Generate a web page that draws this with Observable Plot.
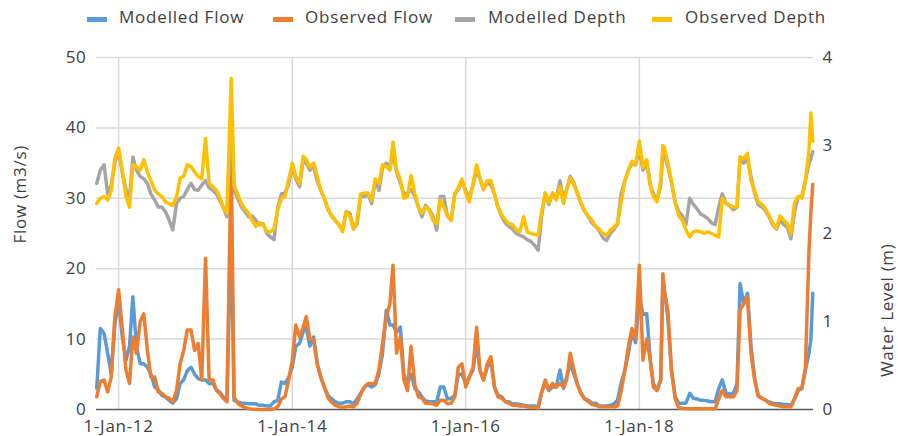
<!DOCTYPE html>
<html><head><meta charset="utf-8">
<script src="https://cdn.jsdelivr.net/npm/d3@7"></script>
<script src="https://cdn.jsdelivr.net/npm/@observablehq/plot@0.6"></script>
<style>
body{margin:0;background:#fff;font-family:"Open Sans",sans-serif;}
#wrap{position:relative;width:898px;height:436px;overflow:hidden;}
#legend{position:relative;height:35px;}
.lt{position:absolute;top:6px;font-size:17px;letter-spacing:0.8px;color:#404040;line-height:22px;white-space:nowrap;}
.sw{position:absolute;top:17px;width:20px;height:5px;}
</style></head><body>
<div id="wrap"><div id="legend"></div><div id="chart"></div></div>
<script>
const dates = [
"2011-10-01","2011-10-16","2011-11-01","2011-11-16","2011-12-01","2011-12-16",
"2012-01-01","2012-01-16","2012-02-01","2012-02-16","2012-03-01","2012-03-16","2012-04-01","2012-04-16","2012-05-01","2012-05-16","2012-06-01","2012-06-16","2012-07-01","2012-07-16","2012-08-01","2012-08-16","2012-09-01","2012-09-16","2012-10-01","2012-10-16","2012-11-01","2012-11-16","2012-12-01","2012-12-16",
"2013-01-01","2013-01-16","2013-02-01","2013-02-16","2013-03-01","2013-03-16","2013-04-01","2013-04-19","2013-05-01","2013-05-16","2013-06-01","2013-06-16","2013-07-01","2013-07-16","2013-08-01","2013-08-16","2013-09-01","2013-09-16","2013-10-01","2013-10-16","2013-11-01","2013-11-16","2013-12-01","2013-12-16",
"2014-01-01","2014-01-16","2014-02-01","2014-02-16","2014-03-01","2014-03-16","2014-04-01","2014-04-16","2014-05-01","2014-05-16","2014-06-01","2014-06-16","2014-07-01","2014-07-16","2014-08-01","2014-08-16","2014-09-01","2014-09-16","2014-10-01","2014-10-16","2014-11-01","2014-11-16","2014-12-01","2014-12-16",
"2015-01-01","2015-01-16","2015-02-01","2015-02-16","2015-03-01","2015-03-16","2015-04-01","2015-04-16","2015-05-01","2015-05-16","2015-06-01","2015-06-16","2015-07-01","2015-07-16","2015-08-01","2015-08-16","2015-09-01","2015-09-16","2015-10-01","2015-10-16","2015-11-01","2015-11-16","2015-12-01","2015-12-16",
"2016-01-01","2016-01-16","2016-02-01","2016-02-16","2016-03-01","2016-03-16","2016-04-01","2016-04-16","2016-05-01","2016-05-16","2016-06-01","2016-06-16","2016-07-01","2016-07-16","2016-08-01","2016-08-16","2016-09-01","2016-09-16","2016-10-01","2016-10-16","2016-11-01","2016-11-16","2016-12-01","2016-12-16",
"2017-01-01","2017-01-16","2017-02-01","2017-02-16","2017-03-01","2017-03-16","2017-04-01","2017-04-16","2017-05-01","2017-05-16","2017-06-01","2017-06-16","2017-07-01","2017-07-16","2017-08-01","2017-08-16","2017-09-01","2017-09-16","2017-10-01","2017-10-16","2017-11-01","2017-11-16","2017-12-01","2017-12-16",
"2018-01-01","2018-01-16","2018-02-01","2018-02-16","2018-03-01","2018-03-16","2018-04-01","2018-04-10","2018-04-16","2018-05-01","2018-05-16","2018-06-01","2018-06-16","2018-07-01","2018-07-16","2018-08-01","2018-08-16","2018-09-01","2018-09-16","2018-10-01","2018-10-16","2018-11-01","2018-11-16","2018-12-01","2018-12-16",
"2019-01-01","2019-01-16","2019-02-01","2019-02-16","2019-03-01","2019-03-16","2019-04-01","2019-04-16","2019-05-01","2019-05-16","2019-06-01","2019-06-16","2019-07-01","2019-07-16","2019-08-01","2019-08-16","2019-09-01","2019-09-16","2019-10-01","2019-10-16","2019-11-01","2019-11-16","2019-12-01","2019-12-16","2019-12-24",
"2020-01-01"];

const modelledFlow = [
3.0,11.5,10.8,8.0,5.1,12.0,
15.5,10.5,7.0,9.0,16.0,9.0,6.5,6.5,6.0,5.0,3.2,2.8,2.0,1.8,1.3,0.9,1.5,3.7,4.2,5.5,6.0,5.0,4.4,4.2,
4.2,3.7,3.7,2.8,2.5,1.8,1.3,26,1.3,1.1,0.9,0.9,0.8,0.8,0.8,0.6,0.6,0.5,0.5,1.1,1.3,3.9,3.7,4.5,
6.0,9.0,9.4,11.0,11.7,9.0,10.3,6.5,4.6,3.2,2.0,1.5,1.1,0.9,0.9,1.1,1.1,0.8,1.5,2.3,3.2,3.5,3.2,3.5,
5.1,8.0,14.1,12.0,12.0,11.0,11.7,5.0,3.7,5.0,3.0,2.5,1.8,1.2,1.1,1.1,1.1,3.2,3.2,1.5,1.6,2.0,5.0,5.0,
3.7,4.6,5.6,9.5,5.6,4.2,6.0,7.0,3.2,2.0,1.8,1.1,1.1,0.8,0.8,0.7,0.6,0.5,0.5,0.5,0.4,2.5,3.7,2.7,
3.2,3.2,5.6,3.0,4.6,6.5,5.0,3.5,2.3,1.5,1.3,0.9,0.9,0.5,0.5,0.5,0.6,0.8,1.3,3.7,5.6,8.0,11.0,9.5,
16.0,13.5,13.6,7.0,3.7,2.7,4.2,18.8,17.0,13.0,5.6,1.8,0.9,0.9,0.9,2.3,1.6,1.5,1.3,1.3,1.2,1.1,1.1,3.0,4.2,
2.3,2.2,2.3,3.7,17.9,15.0,16.5,9.0,4.6,2.0,1.6,1.3,1.1,0.9,0.8,0.8,0.7,0.7,0.6,1.5,2.7,3.0,5.6,8.0,10,
16.5];

const observedFlow = [
1.8,4.0,4.2,2.5,4.6,13.0,
17.0,11.7,5.6,3.7,10.3,8.0,12.5,13.6,8.5,4.6,4.6,2.5,2.3,1.8,1.6,1.1,2.7,6.5,8.4,11.3,11.3,8.4,9.4,4.2,
21.5,4.2,4.2,2.7,2.3,1.6,1.1,36.5,1.8,0.9,0.5,0.3,0.1,0.05,0.05,0,0,0,0,0.1,0.4,1.5,1.8,4.0,
7.0,12.0,10.3,11.7,13.2,10.0,9.9,6.5,4.6,3.2,1.6,1.0,0.6,0.4,0.3,0.4,0.5,0.4,0.9,2.2,3.2,3.7,3.7,3.7,
5.6,9.4,13.2,15.0,20.5,8.0,10.3,4.2,2.7,9.0,3.5,1.8,1.6,0.9,0.9,0.8,0.6,1.3,1.3,0.8,0.9,1.8,6.0,6.5,
3.2,4.6,6.0,11.7,5.5,4.2,6.5,7.5,3.2,1.8,1.6,1.1,0.9,0.6,0.6,0.5,0.5,0.4,0.3,0.3,0.2,2.5,4.2,2.7,
3.7,3.2,3.7,3.2,4.2,8.0,5.5,3.5,2.2,1.5,1.1,0.7,0.6,0.4,0.4,0.4,0.4,0.4,0.5,2.5,5.6,9.0,11.5,10.0,
20.5,7.0,10.0,7.0,3.2,2.7,4.2,19.3,17.0,14.0,5.6,1.5,0.2,0.2,0.1,0.1,0.1,0.1,0.1,0.1,0.1,0.1,0.1,1.5,2.7,
1.8,1.8,1.8,2.7,14.1,15.0,16.0,8.0,4.2,1.9,1.6,1.3,0.9,0.7,0.6,0.5,0.4,0.4,0.4,1.5,3.0,3.0,6.0,22.6,28,
32];

const modelledDepth = [
2.57,2.72,2.78,2.45,2.55,2.80,
2.95,2.70,2.50,2.40,2.87,2.72,2.65,2.62,2.57,2.45,2.38,2.30,2.30,2.25,2.15,2.04,2.34,2.40,2.42,2.50,2.57,2.50,2.49,2.55,
2.60,2.52,2.49,2.45,2.38,2.30,2.19,3.3,2.50,2.40,2.30,2.25,2.19,2.20,2.15,2.10,2.11,2.00,1.96,1.93,2.30,2.45,2.46,2.55,
2.76,2.62,2.53,2.85,2.80,2.72,2.76,2.60,2.49,2.40,2.27,2.20,2.15,2.10,2.04,2.25,2.23,2.05,2.11,2.42,2.42,2.45,2.34,2.60,
2.49,2.75,2.80,2.75,2.90,2.70,2.57,2.45,2.46,2.50,2.42,2.30,2.19,2.32,2.27,2.20,2.04,2.42,2.42,2.20,2.15,2.45,2.50,2.60,
2.49,2.40,2.55,2.72,2.62,2.50,2.58,2.55,2.45,2.30,2.19,2.12,2.08,2.05,2.00,1.98,1.96,1.93,1.91,1.87,1.81,2.20,2.46,2.33,
2.46,2.40,2.60,2.38,2.50,2.65,2.57,2.45,2.34,2.25,2.19,2.12,2.08,2.03,1.95,1.92,2.00,2.05,2.10,2.45,2.60,2.72,2.80,2.78,
2.95,2.72,2.80,2.55,2.45,2.38,2.55,2.92,2.90,2.76,2.58,2.35,2.25,2.20,2.10,2.40,2.33,2.28,2.22,2.20,2.17,2.12,2.10,2.30,2.45,
2.34,2.32,2.27,2.30,2.87,2.80,2.84,2.65,2.46,2.33,2.30,2.26,2.19,2.10,2.05,2.15,2.10,2.07,1.94,2.25,2.42,2.42,2.60,2.80,2.85,
2.93];

const observedDepth = [
2.34,2.40,2.42,2.38,2.49,2.85,
2.97,2.72,2.42,2.30,2.78,2.76,2.72,2.84,2.70,2.60,2.49,2.45,2.42,2.36,2.34,2.32,2.42,2.63,2.65,2.78,2.76,2.70,2.65,2.62,
3.08,2.57,2.53,2.49,2.42,2.30,2.23,3.76,2.55,2.45,2.34,2.28,2.23,2.15,2.08,2.12,2.10,2.02,2.02,2.05,2.27,2.40,2.42,2.60,
2.80,2.65,2.57,2.88,2.84,2.75,2.80,2.65,2.49,2.40,2.27,2.20,2.15,2.10,2.02,2.25,2.19,2.05,2.15,2.45,2.46,2.46,2.38,2.62,
2.57,2.78,2.76,2.72,3.04,2.72,2.61,2.40,2.42,2.66,2.45,2.30,2.23,2.30,2.27,2.15,2.11,2.38,2.30,2.20,2.15,2.45,2.52,2.62,
2.46,2.36,2.57,2.78,2.63,2.50,2.60,2.60,2.45,2.30,2.21,2.15,2.11,2.10,2.04,2.02,2.19,2.02,2.00,1.99,1.98,2.25,2.46,2.35,
2.46,2.38,2.53,2.34,2.50,2.63,2.55,2.45,2.34,2.25,2.19,2.15,2.08,2.05,2.00,1.98,2.04,2.07,2.11,2.35,2.60,2.72,2.82,2.78,
3.05,2.75,2.84,2.55,2.42,2.36,2.60,3.00,2.98,2.80,2.60,2.35,2.20,2.15,2.04,1.96,2.02,2.03,2.02,2.00,2.02,2.00,1.98,1.96,2.40,
2.34,2.32,2.30,2.30,2.87,2.85,2.91,2.60,2.49,2.36,2.33,2.28,2.20,2.12,2.06,2.20,2.15,2.11,2.00,2.35,2.42,2.40,2.60,2.95,3.37,
3.05];

const xTicks = ["2012-01-01","2014-01-01","2016-01-01","2018-01-01"];
const xDomain = ["2011-09-30","2020-01-04"];
const flowTicks = [0,10,20,30,40,50];
const depthTicks = [0,1,2,3,4];
const seriesNames = ["Modelled Flow","Observed Flow","Modelled Depth","Observed Depth"];
const seriesColors = ["#5B9BD5","#ED7D31","#A5A5A5","#FFC000"];
const flowTitle = "Flow (m3/s)";
const depthTitle = "Water Level (m)";

[modelledFlow, observedFlow, modelledDepth, observedDepth].forEach((a, i) => {
  if (a.length !== dates.length) throw new Error("length mismatch series " + i + ": " + a.length + " vs " + dates.length);
});

const k = flowTicks[flowTicks.length-1] / depthTicks[depthTicks.length-1];
const parse = s => new Date(s + "T00:00:00Z");
const rows = dates.map((d,i) => ({date: parse(d), mf: modelledFlow[i], of: observedFlow[i], md: modelledDepth[i]*k, od: observedDepth[i]*k}));

// legend
const legend = document.getElementById("legend");
const swX = [87,273,455,652], txX = [119,305,488,685];
seriesNames.forEach((n,i) => {
  const s = document.createElement("div"); s.className = "sw"; s.style.left = swX[i]+"px"; s.style.background = seriesColors[i]; legend.appendChild(s);
  const t = document.createElement("div"); t.className = "lt"; t.style.left = txX[i]+"px"; t.textContent = n; legend.appendChild(t);
});

const lineOpts = {x: "date", strokeWidth: 3.5, strokeLinejoin: "round", strokeLinecap: "round"};
const chart = Plot.plot({
  width: 898, height: 401,
  marginLeft: 96, marginRight: 85, marginTop: 22, marginBottom: 27,
  style: {fontFamily: "'Open Sans', sans-serif", fontSize: "17px", color: "#404040", letterSpacing: "0.7px", background: "#fff", overflow: "visible"},
  x: {type: "utc", domain: xDomain.map(parse), axis: null},
  y: {domain: [flowTicks[0], flowTicks[flowTicks.length-1]], axis: null},
  marks: [
    Plot.gridY(flowTicks.slice(1), {stroke: "#d9d9d9", strokeOpacity: 1, strokeWidth: 1.5}),
    Plot.gridX(xTicks.map(parse), {stroke: "#d9d9d9", strokeOpacity: 1, strokeWidth: 1.5}),
    Plot.ruleY([0], {stroke: "#595959", strokeWidth: 1.5}),
    Plot.line(rows, {...lineOpts, y: "mf", stroke: seriesColors[0]}),
    Plot.line(rows, {...lineOpts, y: "of", stroke: seriesColors[1]}),
    Plot.line(rows, {...lineOpts, y: "md", stroke: seriesColors[2]}),
    Plot.line(rows, {...lineOpts, y: "od", stroke: seriesColors[3]}),
    Plot.axisY(flowTicks, {anchor: "left", tickSize: 0, tickPadding: 10, label: null}),
    Plot.axisY(depthTicks.map(v => v*k), {anchor: "right", tickSize: 0, tickPadding: 9, label: null, tickFormat: v => String(Math.round(v/k))}),
    Plot.axisX(xTicks.map(parse), {tickSize: 0, tickPadding: 10, label: null, tickFormat: d3.utcFormat("%-d-%b-%y")}),
    Plot.text([flowTitle], {text: d => d, frameAnchor: "left", dx: -76, dy: 10, rotate: -90, fontSize: 17}),
    Plot.text([depthTitle], {text: d => d, frameAnchor: "right", dx: 74, dy: 10, rotate: -90, fontSize: 17})
  ]
});
document.getElementById("chart").appendChild(chart);
</script>
</body></html>
